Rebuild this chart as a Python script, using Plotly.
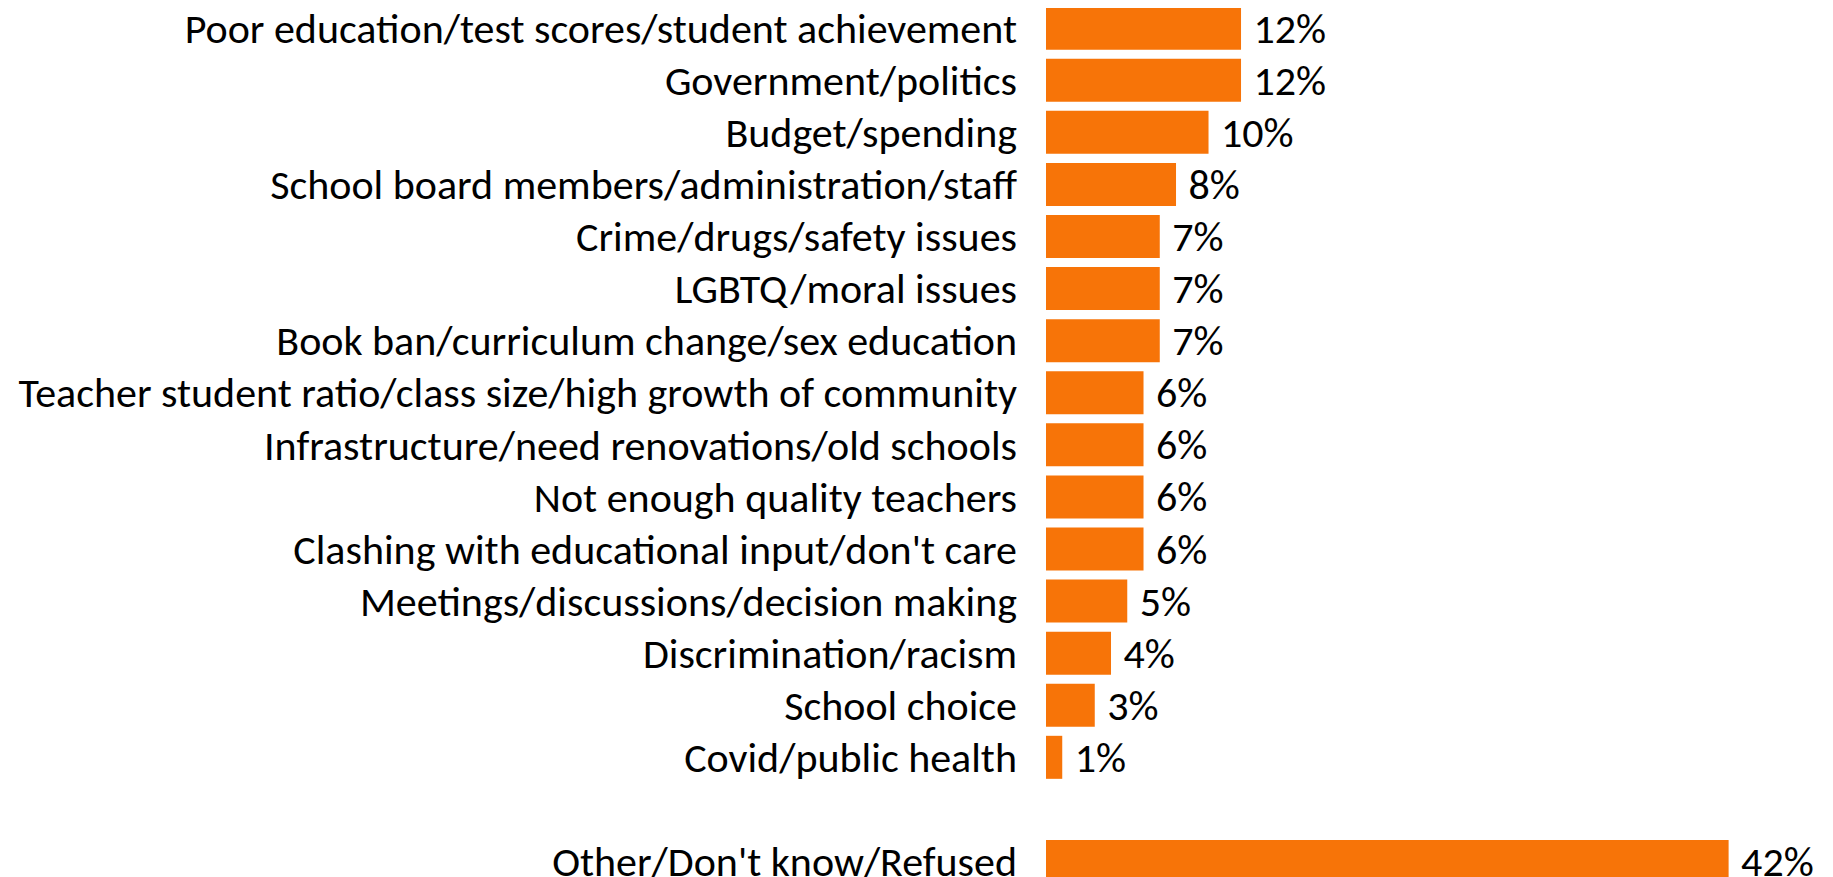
import plotly.graph_objects as go

# survey answers, top to bottom; blank slot separates the "Other" row
issues = [
    'Poor education/test scores/student achievement',
    'Government/politics',
    'Budget/spending',
    'School board members/administration/staff',
    'Crime/drugs/safety issues',
    'LGBTQ/moral issues',
    'Book ban/curriculum change/sex education',
    'Teacher student ratio/class size/high growth of community',
    'Infrastructure/need renovations/old schools',
    'Not enough quality teachers',
    "Clashing with educational input/don't care",
    'Meetings/discussions/decision making',
    'Discrimination/racism',
    'School choice',
    'Covid/public health',
    ' ',
    "Other/Don't know/Refused",
]
shares = [12, 12, 10, 8, 7, 7, 7, 6, 6, 6, 6, 5, 4, 3, 1, None, 42]

labels = [' %d%%' % v if v is not None else '' for v in shares]

font_family = 'Calibri, Carlito, Lato, sans-serif'

fig = go.Figure()
fig.add_trace(go.Bar(
    x=shares, y=issues, orientation='h',
    marker=dict(color='#F77408', line=dict(width=0)),
    text=labels, textposition='outside', cliponaxis=False,
    constraintext='none',
    textfont=dict(family=font_family, size=42, color='black'),
))

# page body adds an 8px margin, so the figure is sized to fill the rest
fig.update_layout(
    width=1825, height=869,
    margin=dict(l=1038, r=2, t=0, b=0),
    paper_bgcolor='white', plot_bgcolor='white',
    bargap=0.174, showlegend=False,
    font=dict(family=font_family, size=42, color='black'),
)
fig.update_xaxes(range=[0, 48.3], visible=False, automargin=False)
fig.update_yaxes(categoryorder='array', categoryarray=issues,
                 range=[16.298, -0.388], showgrid=False, zeroline=False,
                 showline=False, ticks='', ticklabelstandoff=28,
                 automargin=False)

fig.write_html('out.html')
